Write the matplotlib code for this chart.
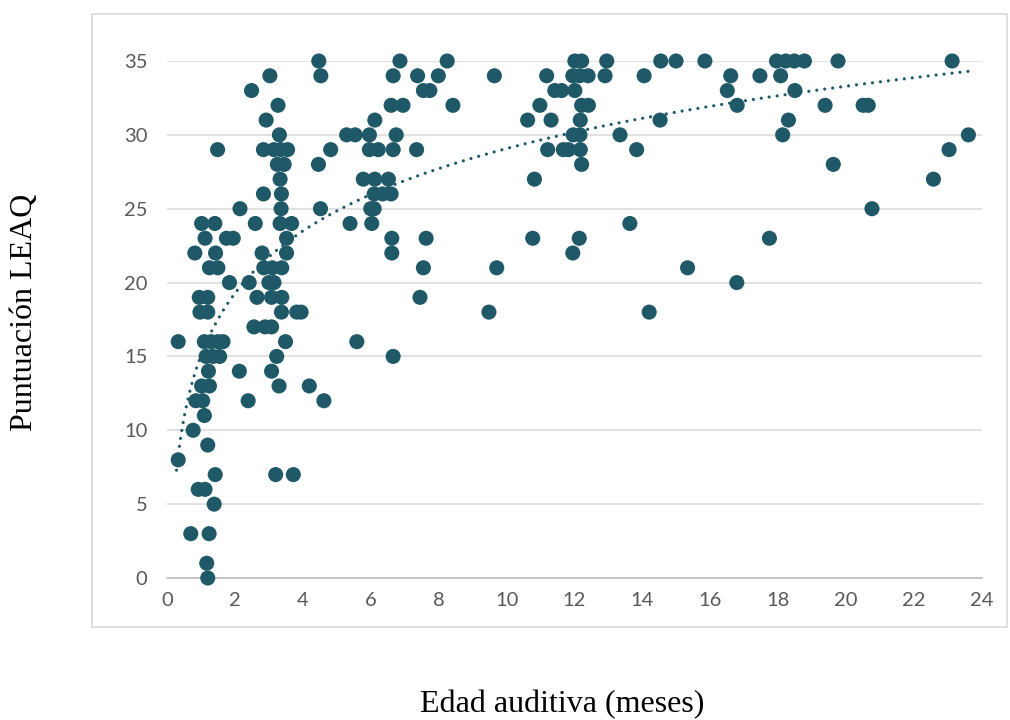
import numpy as np
import matplotlib
matplotlib.use("Agg")
import matplotlib.pyplot as plt
from matplotlib.patches import Rectangle

# Data: (edad auditiva in months, LEAQ score)
edad = [
    4.47, 6.86, 8.25, 12.01, 12.21, 12.95, 14.54, 14.99, 15.84, 17.95, 18.22, 18.47, 18.77, 19.76, 23.12,
    3.03, 4.53, 6.66, 7.38, 7.99, 9.64, 11.18, 11.95, 12.15, 12.4, 12.9, 14.05, 16.6, 17.46, 18.07,
    2.49, 7.55, 7.74, 11.42, 11.62, 12.01, 16.5, 18.49,
    3.27, 6.6, 6.95, 8.42, 10.98, 12.21, 12.41, 16.79, 19.38, 20.5, 20.65,
    2.92, 6.12, 10.62, 11.31, 12.17, 14.52, 18.3,
    3.31, 5.29, 5.54, 5.96, 6.75, 11.96, 12.16, 13.34, 18.13, 23.6,
    1.49, 2.84, 3.15, 3.35, 3.55, 4.82, 5.96, 6.22, 6.66, 7.35, 11.21, 11.67, 11.82, 12.17, 13.83, 23.03,
    3.25, 3.45, 4.46, 12.21, 19.62,
    3.33, 5.78, 6.12, 6.52, 10.82, 22.57,
    2.84, 3.37, 6.1, 6.35, 6.6,
    2.15, 3.36, 4.52, 6.0, 6.1, 20.76,
    1.02, 1.41, 2.6, 3.33, 3.67, 5.39, 6.03, 13.63,
    1.12, 1.75, 1.95, 3.52, 6.62, 7.63, 10.77, 12.14, 17.74,
    0.82, 1.43, 2.8, 3.52, 6.62, 11.95,
    1.25, 1.5, 2.85, 3.1, 3.38, 7.55, 9.71, 15.33,
    1.84, 2.42, 3.0, 3.15, 16.78,
    0.95, 1.2, 2.65, 3.08, 3.38, 7.45,
    0.97, 1.2, 3.37, 3.82, 3.95, 9.48, 14.2,
    2.56, 2.89, 3.08,
    0.33, 1.1, 1.3, 1.5, 1.65, 3.49, 5.59,
    1.15, 1.35, 1.55, 3.23, 6.66,
    1.22, 2.13, 3.08,
    1.02, 1.25, 3.3, 4.19,
    0.85, 1.05, 2.39, 4.62,
    1.1,
    0.77,
    1.2,
    0.33,
    1.42, 3.2, 3.72,
    0.92, 1.12,
    1.39,
    0.7, 1.24,
    1.17,
    1.2,
]
leaq = (
    [35] * 15 + [34] * 15 + [33] * 8 + [32] * 11 + [31] * 7 + [30] * 10 +
    [29] * 16 + [28] * 5 + [27] * 6 + [26] * 5 + [25] * 6 + [24] * 8 +
    [23] * 9 + [22] * 6 + [21] * 8 + [20] * 5 + [19] * 6 + [18] * 7 +
    [17] * 3 + [16] * 7 + [15] * 5 + [14] * 3 + [13] * 4 + [12] * 4 +
    [11] * 1 + [10] * 1 + [9] * 1 + [8] * 1 + [7] * 3 + [6] * 2 + [5] * 1 +
    [3] * 2 + [1] * 1 + [0] * 1
)

# Logarithmic trend line y = a*ln(x) + b
trend_a = 6.09
trend_b = 15.05

x_ticks = list(range(0, 25, 2))
y_ticks = list(range(0, 36, 5))

color = "#1F5968"

fig = plt.figure(figsize=(10.1, 7.2), dpi=100)
ax = fig.add_axes([167 / 1010, 1 - 578 / 720, (982 - 167) / 1010, (578 - 61) / 720])

# outer chart border
fig.patches.append(Rectangle((92 / 1010, 1 - 627 / 720), (1007 - 92) / 1010, (627 - 14) / 720,
                             transform=fig.transFigure, fill=False, edgecolor="#D9D9D9", linewidth=1.2))

ax.scatter(edad, leaq, s=118, color=color, edgecolors="none", zorder=3, clip_on=False)

xa = np.array(edad)
xt = np.linspace(xa.min() - 0.05, xa.max(), 400)
ax.plot(xt, trend_a * np.log(xt) + trend_b, color=color, linewidth=2.3,
        linestyle=(0, (0.01, 2.5)), dash_capstyle="round", zorder=4, clip_on=False)

ax.set_xlim(0, 24)
ax.set_ylim(0, 35)
ax.set_xticks(x_ticks)
ax.set_yticks(y_ticks)
ax.grid(axis="y", color="#D9D9D9", linewidth=1.1, zorder=0)
ax.set_axisbelow(True)
for s in ["top", "right", "left"]:
    ax.spines[s].set_visible(False)
ax.spines["bottom"].set_color("#BFBFBF")
ax.spines["bottom"].set_linewidth(1.2)
ax.tick_params(axis="both", length=0, labelsize=14.5, labelcolor="#595959")
ax.tick_params(axis="y", pad=14)
ax.tick_params(axis="x", pad=10)
for lab in ax.get_xticklabels() + ax.get_yticklabels():
    lab.set_fontfamily("Lato")

fig.text(25 / 1010, 1 - 312 / 720, "Puntuación LEAQ", rotation=90, ha="center", va="center",
         fontsize=23, family="Liberation Serif", color="black")
fig.text(562 / 1010, 1 - 705 / 720, "Edad auditiva (meses)", ha="center", va="center",
         fontsize=23, family="Liberation Serif", color="black")

fig.savefig("out.png", dpi=100)
